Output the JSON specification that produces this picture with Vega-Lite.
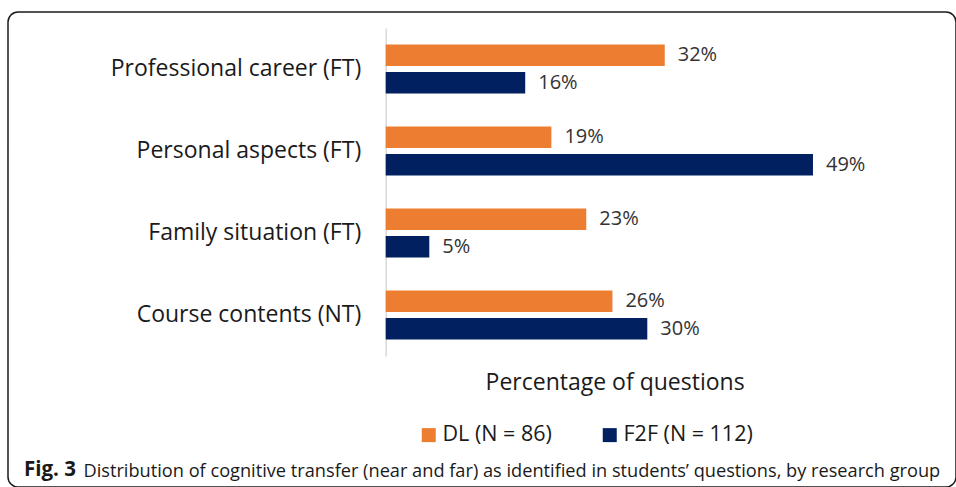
{
  "$schema": "https://vega.github.io/schema/vega-lite/v6.json",
  "autosize": {"type": "none"},
  "width": 948,
  "height": 475,
  "padding": {"left": 8, "top": 12, "right": 0, "bottom": 0},
  "background": "white",
  "title": {
    "text": "Fig. 3",
    "orient": "bottom",
    "anchor": "start",
    "frame": "group",
    "offset": 0,
    "dx": 16,
    "dy": -11,
    "baseline": "alphabetic",
    "font": "Open Sans",
    "fontSize": 20.5,
    "fontWeight": "bold",
    "color": "#1a1a1a"
  },
  "data": {
    "values": [
      {"category": "Professional career (FT)", "group": "DL (N = 86)", "value": 0.32},
      {"category": "Professional career (FT)", "group": "F2F (N = 112)", "value": 0.16},
      {"category": "Personal aspects (FT)", "group": "DL (N = 86)", "value": 0.19},
      {"category": "Personal aspects (FT)", "group": "F2F (N = 112)", "value": 0.49},
      {"category": "Family situation (FT)", "group": "DL (N = 86)", "value": 0.23},
      {"category": "Family situation (FT)", "group": "F2F (N = 112)", "value": 0.05},
      {"category": "Course contents (NT)", "group": "DL (N = 86)", "value": 0.26},
      {"category": "Course contents (NT)", "group": "F2F (N = 112)", "value": 0.30}
    ]
  },
  "encoding": {
    "y": {
      "field": "category",
      "type": "nominal",
      "sort": ["Professional career (FT)", "Personal aspects (FT)", "Family situation (FT)", "Course contents (NT)"],
      "scale": {"range": [16, 344], "paddingInner": 0.4, "paddingOuter": 0.2},
      "axis": {
        "title": "Distribution of cognitive transfer (near and far) as identified in students’ questions, by research group",
        "titleAngle": 0,
        "titleAlign": "left",
        "titleBaseline": "alphabetic",
        "titleX": -302.7,
        "titleY": 464,
        "titleFont": "Open Sans",
        "titleFontSize": 18.2,
        "titleFontWeight": "normal",
        "titleColor": "#1a1a1a",
        "offset": -377.7,
        "ticks": false,
        "grid": false,
        "labelPadding": 25,
        "labelFont": "Open Sans",
        "labelFontSize": 23,
        "labelColor": "#1a1a1a",
        "labelLimit": 400,
        "domainColor": "#d9d9d9",
        "domainWidth": 1.5
      }
    },
    "yOffset": {"field": "group", "type": "nominal", "scale": {"paddingInner": 0.22, "paddingOuter": 0}},
    "x": {
      "field": "value",
      "type": "quantitative",
      "scale": {"domain": [0, 0.525], "range": [377.7, 835.5], "nice": false, "zero": true},
      "axis": {
        "title": "Percentage of questions",
        "labels": false,
        "ticks": false,
        "domain": false,
        "grid": false,
        "titleY": -98,
        "titleBaseline": "alphabetic",
        "titleFont": "Open Sans",
        "titleFontSize": 23,
        "titleFontWeight": "normal",
        "titleColor": "#1a1a1a"
      }
    }
  },
  "layer": [
    {
      "mark": {"type": "bar"},
      "encoding": {
        "color": {
          "field": "group",
          "type": "nominal",
          "scale": {"range": ["#ED7D31", "#002060"]},
          "legend": {
            "orient": "none",
            "direction": "horizontal",
            "legendX": 410,
            "legendY": 412,
            "title": null,
            "symbolType": "square",
            "symbolSize": 196,
            "symbolStrokeWidth": 0,
            "labelFont": "Open Sans",
            "labelFontSize": 21.5,
            "labelColor": "#1a1a1a",
            "labelOffset": 3,
            "columnPadding": 47,
            "padding": 0
          }
        }
      }
    },
    {
      "mark": {"type": "text", "align": "left", "baseline": "middle", "dx": 13, "font": "Open Sans", "fontSize": 20, "color": "#333333"},
      "encoding": {"text": {"field": "value", "type": "quantitative", "format": ".0%"}}
    }
  ],
  "config": {
    "view": {"stroke": "#1a1a1a", "strokeWidth": 1.5, "cornerRadius": 10}
  }
}
